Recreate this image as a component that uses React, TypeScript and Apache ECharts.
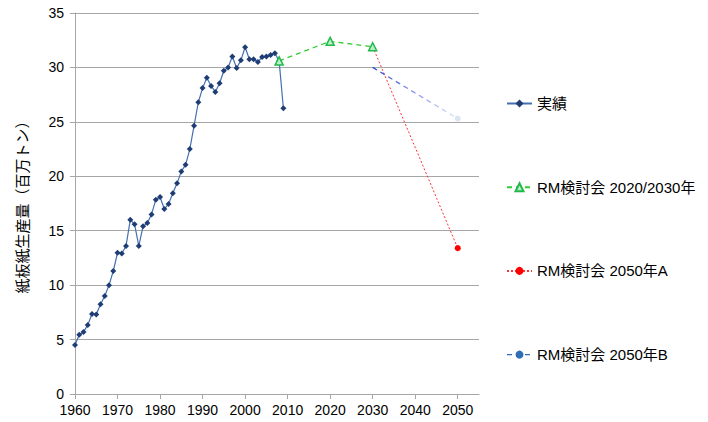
import React, { useEffect, useRef } from "react";
import * as echarts from "echarts";

const years: number[] = [
  1960, 1961, 1962, 1963, 1964, 1965, 1966, 1967, 1968, 1969,
  1970, 1971, 1972, 1973, 1974, 1975, 1976, 1977, 1978, 1979,
  1980, 1981, 1982, 1983, 1984, 1985, 1986, 1987, 1988, 1989,
  1990, 1991, 1992, 1993, 1994, 1995, 1996, 1997, 1998, 1999,
  2000, 2001, 2002, 2003, 2004, 2005, 2006, 2007, 2008, 2009,
];
const actual: number[] = [
  4.5, 5.45, 5.7, 6.35, 7.35, 7.3, 8.25, 9.0, 10.0, 11.3,
  12.97, 12.9, 13.6, 16.0, 15.6, 13.6, 15.4, 15.7, 16.5, 17.85,
  18.1, 17.0, 17.45, 18.45, 19.35, 20.45, 21.05, 22.5, 24.65, 26.8,
  28.1, 29.05, 28.3, 27.75, 28.55, 29.7, 30.0, 31.0, 29.95, 30.65,
  31.85, 30.75, 30.75, 30.5, 30.95, 31.0, 31.15, 31.3, 30.6, 26.25,
];
const rmYears: number[] = [2008, 2020, 2030];
const rmValues: number[] = [30.6, 32.4, 31.9];
const aYears: number[] = [2030, 2050];
const aValues: number[] = [31.9, 13.4];
const bYears: number[] = [2030, 2050];
const bValues: number[] = [30.0, 25.3];

const legendNames: string[] = ["実績", "RM検討会 2020/2030年", "RM検討会 2050年A", "RM検討会 2050年B"];

const FONT = "'Liberation Sans', 'Noto Sans CJK JP', sans-serif";

export default function App() {
  const ref = useRef<HTMLDivElement>(null);
  useEffect(() => {
    if (!ref.current) return;
    const chart = echarts.init(ref.current, undefined, { renderer: "svg" });
    chart.setOption({
      animation: false,
      textStyle: { fontFamily: FONT },
      grid: { left: 75, right: 229, top: 13, bottom: 28, containLabel: false },
      legend: {
        orient: "vertical",
        left: 501,
        top: 91,
        itemWidth: 25,
        itemHeight: 10,
        itemGap: 68.7,
        textStyle: { fontSize: 15, color: "#000", fontFamily: FONT },
        data: [
          { name: legendNames[0] },
          { name: legendNames[1] },
          { name: legendNames[2] },
          {
            name: legendNames[3],
            itemStyle: { color: "#2f6db5" },
            lineStyle: { color: "#2f6db5", type: [5, 4], width: 1.3 },
          },
        ],
      },
      xAxis: {
        type: "value",
        min: 1960,
        max: 2055,
        interval: 10,
        axisLine: { show: true, lineStyle: { color: "#a6a6a6", width: 1 } },
        axisTick: { show: true, length: 5, lineStyle: { color: "#a6a6a6" } },
        splitLine: { show: false },
        axisLabel: {
          showMaxLabel: false,
          color: "#000",
          fontSize: 14,
          margin: 9,
          fontFamily: FONT,
          formatter: (v: number) => String(v),
        },
      },
      yAxis: {
        type: "value",
        min: 0,
        max: 35,
        interval: 5,
        name: "紙板紙生産量（百万トン）",
        nameLocation: "middle",
        nameGap: 45,
        nameRotate: 90,
        nameTextStyle: { fontSize: 15, color: "#000", fontFamily: FONT },
        axisLine: { show: true, lineStyle: { color: "#a6a6a6", width: 1 } },
        axisTick: { show: true, length: 5, lineStyle: { color: "#a6a6a6" } },
        splitLine: { show: true, lineStyle: { color: "#a6a6a6", width: 1 } },
        axisLabel: { color: "#000", fontSize: 14, margin: 11, fontFamily: FONT },
      },
      series: [
        {
          name: legendNames[0],
          type: "line",
          data: years.map((y, i) => [y, actual[i]]),
          symbol: "diamond",
          symbolSize: 6,
          lineStyle: { color: "#4470b0", width: 1.2 },
          itemStyle: { color: "#1f3d75" },
          z: 3,
        },
        {
          name: legendNames[1],
          type: "line",
          data: rmYears.map((y, i) => [y, rmValues[i]]),
          symbol: "triangle",
          symbolSize: 8,
          lineStyle: { color: "#33cc33", width: 1.3, type: [5, 4] },
          itemStyle: { color: "#b8f0c8", borderColor: "#22b84a", borderWidth: 1.5 },
          z: 4,
        },
        {
          name: legendNames[2],
          type: "line",
          data: aYears.map((y, i) => ({
            value: [y, aValues[i]],
            symbol: i === 0 ? "none" : "circle",
          })),
          symbol: "circle",
          symbolSize: 6,
          lineStyle: { color: "#ff3333", width: 1, type: [2, 2] },
          itemStyle: { color: "#ff0000" },
          z: 2,
        },
        {
          name: legendNames[3],
          type: "line",
          data: bYears.map((y, i) => ({
            value: [y, bValues[i]],
            symbol: i === 0 ? "none" : "circle",
            itemStyle: i === 0 ? undefined : { color: "#dbe4f4" },
          })),
          symbol: "circle",
          symbolSize: 6,
          lineStyle: {
            width: 1.3,
            type: [5, 4],
            color: new echarts.graphic.LinearGradient(0, 0, 1, 0, [
              { offset: 0, color: "#2a3fd8" },
              { offset: 1, color: "#e2e9f6" },
            ]),
          },
          itemStyle: { color: "#2f6db5" },
          z: 2,
        },
      ],
    });
    return () => chart.dispose();
  }, []);
  return <div ref={ref} style={{ width: 708, height: 422, position: "absolute", left: 0, top: 0 }} />;
}
